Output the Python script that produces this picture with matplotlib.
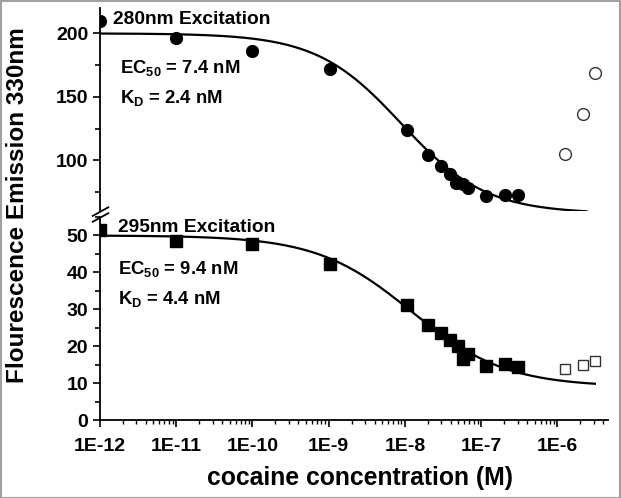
import numpy as np
import matplotlib
matplotlib.use("Agg")
import matplotlib.pyplot as plt
from matplotlib.ticker import LogLocator, MultipleLocator, FixedLocator, FixedFormatter, NullFormatter
from matplotlib.patches import Rectangle

plt.rcParams['font.family'] = ['Liberation Sans', 'DejaVu Sans']
plt.rcParams['font.weight'] = 'bold'
plt.rcParams['mathtext.fontset'] = 'custom'
plt.rcParams['mathtext.rm'] = 'Liberation Sans:bold'
plt.rcParams['mathtext.bf'] = 'Liberation Sans:bold'
plt.rcParams['mathtext.default'] = 'rm'

# ---- data ----
conc_280 = [1e-12, 1e-11, 1e-10, 1.05e-9, 1.06e-8, 2.0e-8, 2.95e-8, 3.9e-8, 4.7e-8, 5.8e-8, 6.8e-8, 1.15e-7, 2.05e-7, 3.0e-7]
em_280 = [209.5, 196.3, 186.0, 171.6, 123.6, 104.5, 95.5, 89.0, 82.0, 80.9, 78.2, 72.0, 73.0, 72.4]
conc_280_open = [1.24e-6, 2.14e-6, 3.08e-6]
em_280_open = [104.7, 136.8, 168.7]

conc_295 = [1e-12, 1e-11, 1e-10, 1.05e-9, 1.06e-8, 2.0e-8, 2.95e-8, 3.9e-8, 4.9e-8, 5.7e-8, 6.8e-8, 1.15e-7, 2.05e-7, 3.0e-7]
em_295 = [51.5, 48.5, 47.7, 42.3, 31.1, 25.7, 23.7, 21.6, 20.1, 16.4, 17.8, 14.7, 15.3, 14.4]
conc_295_open = [1.25e-6, 2.15e-6, 3.1e-6]
em_295_open = [13.8, 14.9, 15.9]

# logistic fit parameters (top, bottom, log10 EC50, Hill slope)
fit_280 = dict(top=200.0, bottom=58.0, logc=-8.05, h=0.78, xmax=2.4e-6)
fit_295 = dict(top=50.0, bottom=9.0, logc=-7.92, h=0.70, xmax=3.1e-6)

xticks = [1e-12, 1e-11, 1e-10, 1e-9, 1e-8, 1e-7, 1e-6]
xticklabels = ['1E-12', '1E-11', '1E-10', '1E-9', '1E-8', '1E-7', '1E-6']

W, H = 621, 498
fig = plt.figure(figsize=(W / 100, H / 100), dpi=100)

L, R = 100 / W, 608 / W
ax_top = fig.add_axes([L, 1 - 211 / H, R - L, (211 - 8) / H])
ax_bot = fig.add_axes([L, 1 - 420 / H, R - L, (420 - 217) / H])

def logistic(p, n=300):
    x = np.logspace(-12, np.log10(p['xmax']), n)
    y = p['bottom'] + (p['top'] - p['bottom']) / (1 + 10 ** (p['h'] * (np.log10(x) - p['logc'])))
    return x, y

for ax in (ax_top, ax_bot):
    ax.set_xscale('log')
    ax.set_xlim(1e-12, 4.6e-6)
    for s in ('top', 'right'):
        ax.spines[s].set_visible(False)
    ax.spines['left'].set_linewidth(1.3)
    ax.spines['bottom'].set_linewidth(1.3)
    ax.tick_params(axis='y', which='major', direction='out', length=5, width=1.2, pad=3.5, labelsize=14)
    ax.tick_params(axis='y', which='minor', direction='out', length=3.5, width=1.2)

ax_top.spines['bottom'].set_visible(False)
ax_top.tick_params(axis='x', which='both', bottom=False, labelbottom=False)

# top panel
x, y = logistic(fit_280)
ax_top.plot(x, y, color='black', lw=1.6, zorder=2)
ax_top.plot(conc_280, em_280, 'o', color='black', ms=8.5, zorder=3)
ax_top.plot(conc_280_open, em_280_open, 'o', mfc='white', mec='#333333', mew=1.0, ms=8.5, zorder=3)
ax_top.set_ylim(60, 220)
ax_top.yaxis.set_major_locator(FixedLocator([100, 150, 200]))
ax_top.yaxis.set_minor_locator(FixedLocator([75, 125, 175]))

# bottom panel
x, y = logistic(fit_295)
ax_bot.plot(x, y, color='black', lw=1.6, zorder=2)
ax_bot.plot(conc_295, em_295, 's', color='black', ms=8, zorder=3)
ax_bot.plot(conc_295_open, em_295_open, 's', mfc='white', mec='#333333', mew=1.0, ms=7.5, zorder=3)
ax_bot.set_ylim(0, 55)
ax_bot.yaxis.set_major_locator(MultipleLocator(10))
ax_bot.yaxis.set_minor_locator(MultipleLocator(5))
ax_bot.xaxis.set_major_locator(FixedLocator(xticks))
ax_bot.xaxis.set_major_formatter(FixedFormatter(xticklabels))
ax_bot.xaxis.set_minor_locator(LogLocator(base=10, subs=np.arange(2, 10), numticks=20))
ax_bot.xaxis.set_minor_formatter(NullFormatter())
ax_bot.tick_params(axis='x', which='major', direction='out', length=5, width=1.2, pad=8, labelsize=14)
ax_bot.tick_params(axis='x', which='minor', direction='out', length=3, width=1.0)

# annotations
ax_top.text(0.026, 211, '280nm Excitation', transform=ax_top.get_yaxis_transform(),
            fontsize=13.8, fontweight='bold', va='center', ha='left')
ax_top.text(0.039, 173, r'EC$_{50}$ = 7.4 nM', transform=ax_top.get_yaxis_transform(),
            fontsize=13.3, fontweight='bold', va='center', ha='left')
ax_top.text(0.039, 149.4, r'K$_{D}$ = 2.4 nM', transform=ax_top.get_yaxis_transform(),
            fontsize=13.3, fontweight='bold', va='center', ha='left')
ax_bot.text(0.035, 52.2, '295nm Excitation', transform=ax_bot.get_yaxis_transform(),
            fontsize=13.8, fontweight='bold', va='center', ha='left')
ax_bot.text(0.035, 40.8, r'EC$_{50}$ = 9.4 nM', transform=ax_bot.get_yaxis_transform(),
            fontsize=13.3, fontweight='bold', va='center', ha='left')
ax_bot.text(0.035, 32.7, r'K$_{D}$ = 4.4 nM', transform=ax_bot.get_yaxis_transform(),
            fontsize=13.3, fontweight='bold', va='center', ha='left')

# break marks
for yc in (211.6, 217.5):
    x0, x1 = 92.7, 108.3
    fig.add_artist(plt.Line2D([x0 / W, x1 / W], [1 - (yc + 4.3) / H, 1 - (yc - 4.3) / H],
                              color='black', lw=1.3, transform=fig.transFigure))

# axis labels
fig.text(17.5 / W, 1 - 205 / H, 'Flourescence Emission 330nm', rotation=90,
         fontsize=17.5, fontweight='bold', ha='center', va='center')
fig.text(360 / W, 1 - 478 / H, 'cocaine concentration (M)',
         fontsize=17.8, fontweight='bold', ha='center', va='center')

# image frame
fig.add_artist(Rectangle((0.5 / W, 0.5 / H), 1 - 1.5 / W, 1 - 1.5 / H, transform=fig.transFigure,
                         fill=False, edgecolor='#a0a0a0', lw=1.5))

fig.savefig('out.png', dpi=100)
